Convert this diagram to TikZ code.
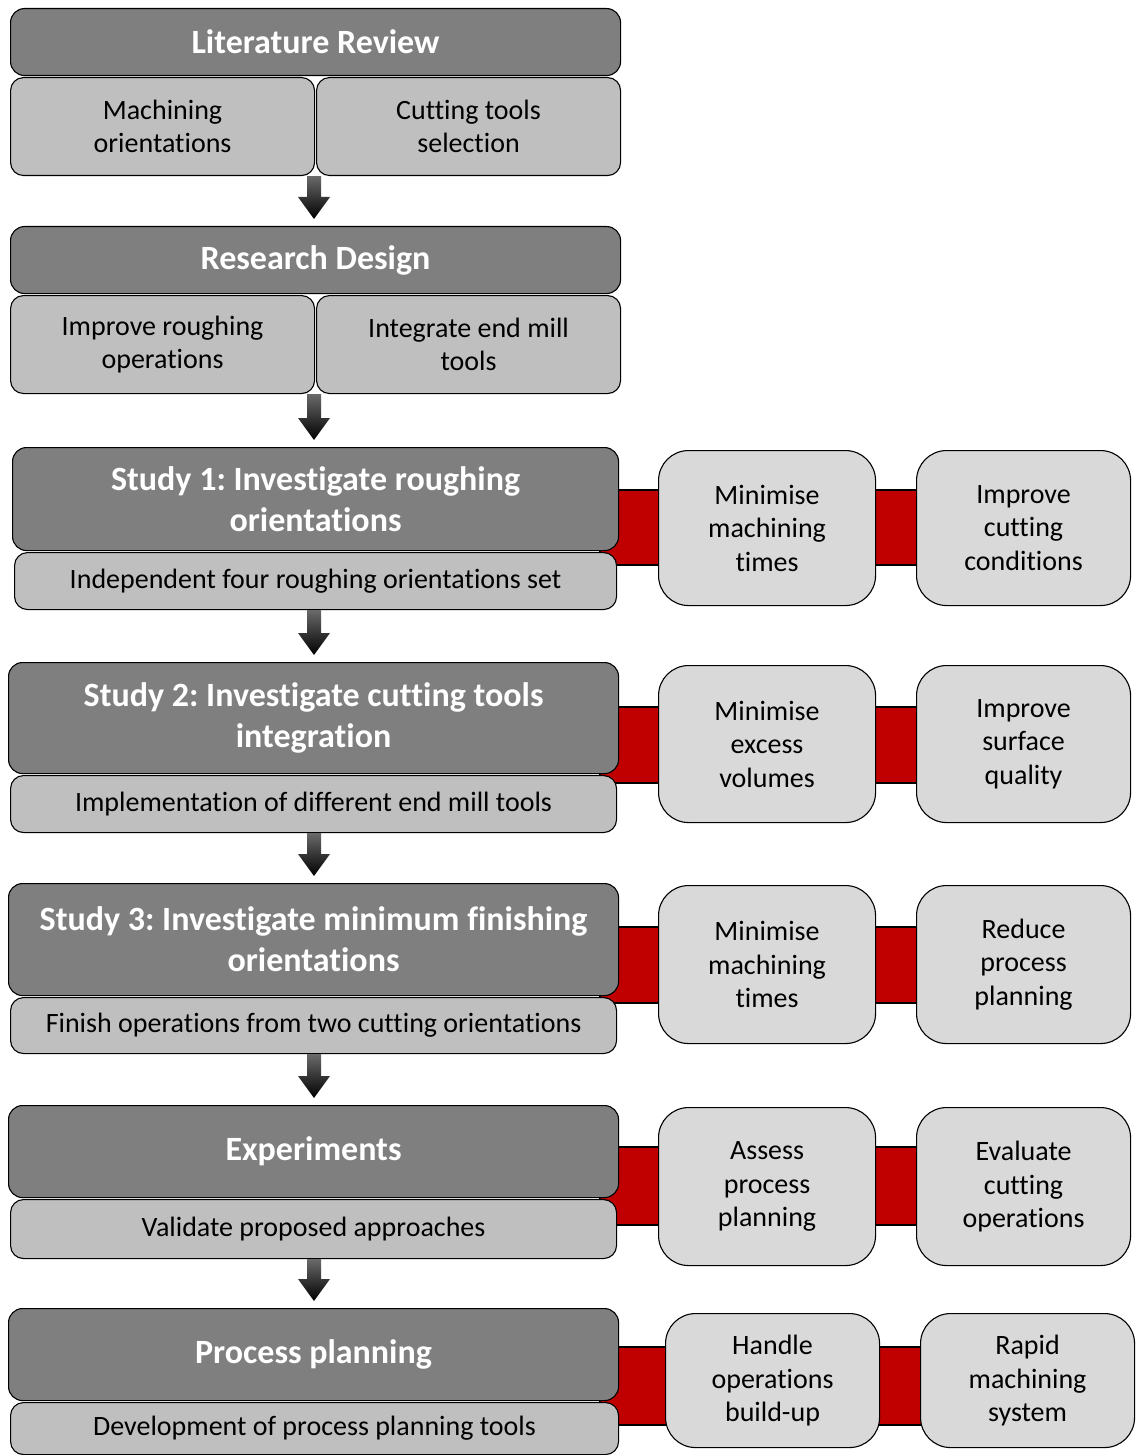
\documentclass[tikz,border=0pt]{standalone}
\usepackage{fontspec}
\setmainfont{Carlito}[Ligatures={NoCommon}]
\usetikzlibrary{calc}
\definecolor{dgray}{HTML}{7F7F7F}
\definecolor{mgray}{HTML}{BFBFBF}
\definecolor{lgray}{HTML}{D9D9D9}
\definecolor{redbar}{HTML}{C00000}
\definecolor{agray}{HTML}{6A6A6A}
\frenchspacing
\newcommand{\bx}[7]{\node[#6, anchor=north west, minimum width={(#4-#2)*1pt}, minimum height={(#5-#3)*1pt}] (#1) at (#2,#3) {#7};}
\newcommand{\darrow}[2]{\shade[top color=agray, bottom color=black]
  let \p1=(axis |- #1.south), \p2=(axis |- #2.north) in
  (\x1-7pt,\y1) -- (\x1+7pt,\y1) -- (\x1+7pt,\y2+29pt) -- (\x1+16pt,\y2+29pt) -- (\x1,\y2+7pt) -- (\x1-16pt,\y2+29pt) -- (\x1-7pt,\y2+29pt) -- cycle;}
\begin{document}
\begin{tikzpicture}[x=1pt,y=-1pt,
  titlebox/.style={draw=black, line width=1.1pt, fill=dgray, rounded corners=14pt, inner sep=0pt, text=white, align=center, font=\fontsize{34}{41}\selectfont\bfseries},
  subbox/.style={draw=black, line width=1.1pt, fill=mgray, rounded corners=13pt, inner sep=0pt, align=center, font=\fontsize{28}{33.5}\selectfont},
  sidebox/.style={draw=black, line width=1.1pt, fill=lgray, rounded corners=30pt, inner sep=0pt, align=center, font=\fontsize{28}{33.5}\selectfont},
  redlink/.style={draw=black, line width=1.1pt, fill=redbar}]
\useasboundingbox[fill=white] (0,0) rectangle (1135,1455);
\coordinate (axis) at (314,0);
% red links (behind boxes)
\draw[redlink] (600,490) rectangle (670,565);
\draw[redlink] (865,490) rectangle (925,565);
\draw[redlink] (600,707) rectangle (670,783);
\draw[redlink] (865,707) rectangle (925,783);
\draw[redlink] (600,927) rectangle (670,1003);
\draw[redlink] (865,927) rectangle (925,1003);
\draw[redlink] (600,1147) rectangle (670,1225);
\draw[redlink] (865,1147) rectangle (925,1225);
\draw[redlink] (600,1347) rectangle (675,1425);
\draw[redlink] (870,1347) rectangle (930,1425);
% Literature review
\bx{LR}{10}{8}{620}{75}{titlebox}{Literature Review}
\bx{LRa}{10}{77}{314}{175}{subbox}{Machining\\orientations}
\bx{LRb}{316}{77}{620}{175}{subbox}{Cutting tools\\selection}
% Research design
\bx{RD}{10}{226}{620}{293}{titlebox}{Research Design}
\bx{RDa}{10}{295}{314}{393}{subbox}{Improve roughing\\operations}
\bx{RDb}{316}{295}{620}{393}{subbox}{Integrate end mill\\tools}
% Study 1
\bx{SA}{12}{447}{618}{550}{titlebox}{Study 1: Investigate roughing\\orientations}
\bx{SAs}{14}{552}{616}{609}{subbox}{Independent four roughing orientations set}
\bx{SAx}{658}{450}{875}{605}{sidebox}{Minimise\\machining\\times}
\bx{SAy}{916}{450}{1130}{605}{sidebox}{Improve\\cutting\\conditions}
% Study 2
\bx{SB}{8}{662}{618}{773}{titlebox}{Study 2: Investigate cutting tools\\integration}
\bx{SBs}{10}{775}{616}{832}{subbox}{Implementation of different end mill tools}
\bx{SBx}{658}{665}{875}{822}{sidebox}{Minimise\\excess\\volumes}
\bx{SBy}{916}{665}{1130}{822}{sidebox}{Improve\\surface\\quality}
% Study 3
\bx{SC}{8}{883}{618}{995}{titlebox}{Study 3: Investigate minimum finishing\\orientations}
\bx{SCs}{10}{997}{616}{1053}{subbox}{Finish operations from two cutting orientations}
\bx{SCx}{658}{885}{875}{1043}{sidebox}{Minimise\\machining\\times}
\bx{SCy}{916}{885}{1130}{1043}{sidebox}{Reduce\\process\\planning}
% Experiments
\bx{EX}{8}{1105}{618}{1197}{titlebox}{Experiments}
\bx{EXs}{10}{1199}{616}{1258}{subbox}{Validate proposed approaches}
\bx{EXx}{658}{1107}{875}{1265}{sidebox}{Assess\\process\\planning}
\bx{EXy}{916}{1107}{1130}{1265}{sidebox}{Evaluate\\cutting\\operations}
% Process planning
\bx{PP}{8}{1308}{618}{1400}{titlebox}{Process planning}
\bx{PPs}{10}{1402}{618}{1454}{subbox}{Development of process planning tools}
\bx{PPx}{665}{1313}{879}{1447}{sidebox}{Handle\\operations\\build-up}
\bx{PPy}{920}{1313}{1134}{1447}{sidebox}{Rapid\\machining\\system}
% arrows
\darrow{LRa}{RD}
\darrow{RDa}{SA}
\darrow{SAs}{SB}
\darrow{SBs}{SC}
\darrow{SCs}{EX}
\darrow{EXs}{PP}
\end{tikzpicture}
\end{document}
